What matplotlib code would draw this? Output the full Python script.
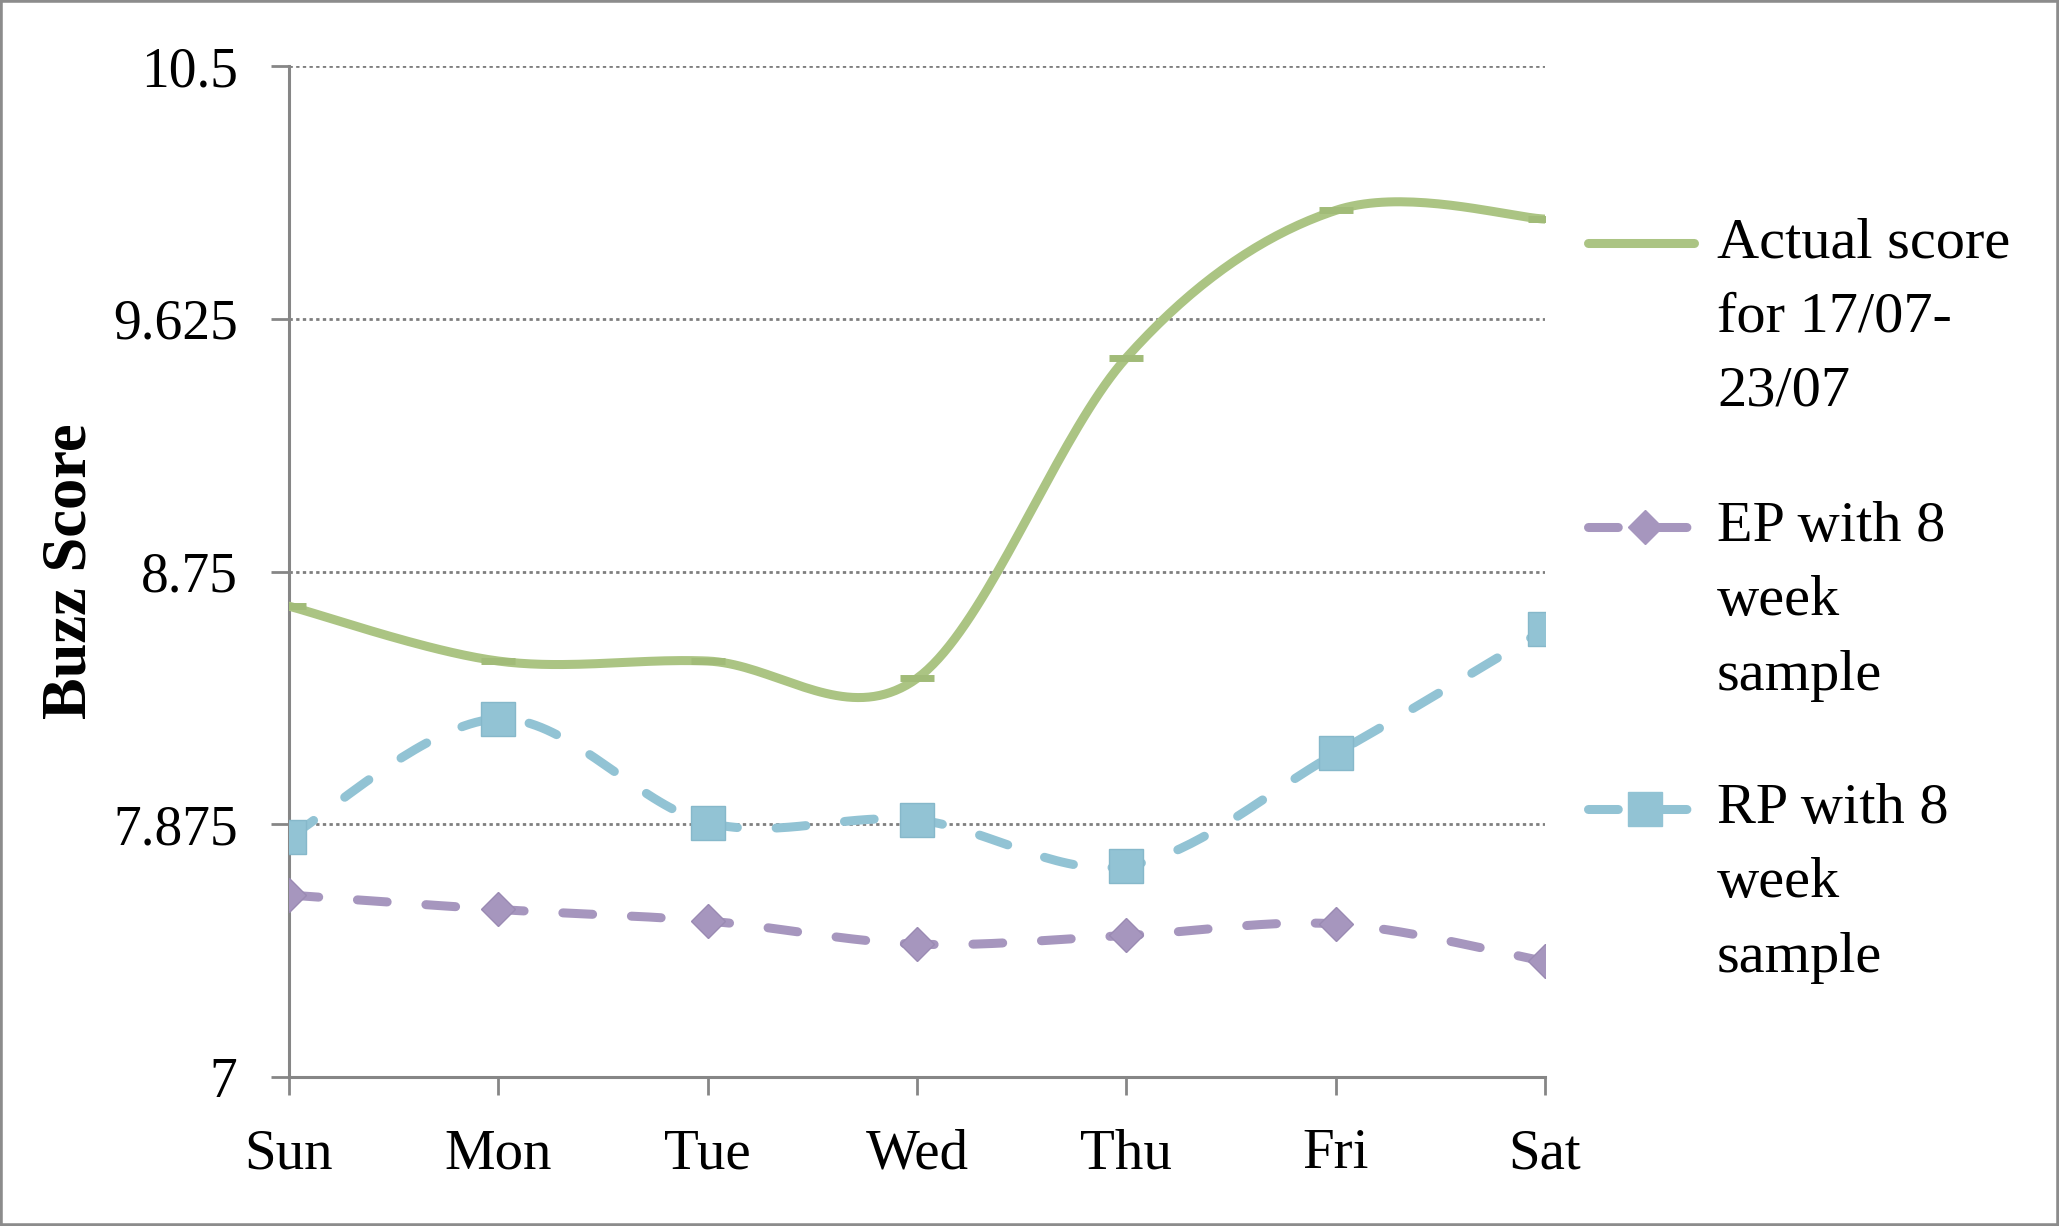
import numpy as np
import matplotlib.pyplot as plt
from matplotlib.lines import Line2D
from matplotlib.patches import Rectangle

# Data
days = ['Sun', 'Mon', 'Tue', 'Wed', 'Thu', 'Fri', 'Sat']
actual = [8.63, 8.44, 8.44, 8.38, 9.49, 10.0, 9.97]
ep_8wk = [7.63, 7.58, 7.54, 7.46, 7.49, 7.53, 7.40]
rp_8wk = [7.83, 8.24, 7.88, 7.89, 7.73, 8.12, 8.55]
y_ticks = [7, 7.875, 8.75, 9.625, 10.5]
y_tick_labels = ['7', '7.875', '8.75', '9.625', '10.5']
legend_lines = [['Actual score', 'for 17/07-', '23/07'],
                ['EP with 8', 'week', 'sample'],
                ['RP with 8', 'week', 'sample']]

green = '#abc483'
purple = '#a696be'
blue = '#92c3d4'
grey = '#868686'

plt.rcParams['font.family'] = ['Liberation Serif', 'DejaVu Serif']


def smooth(xs, ys, n=40):
    # catmull-rom style bezier, like the spreadsheet "smoothed line"
    p = np.column_stack([xs, ys]).astype(float)
    p_ext = np.vstack([p[0], p, p[-1]])
    out = []
    t = np.linspace(0, 1, n)[:, None]
    for i in range(len(p) - 1):
        b0 = p_ext[i + 1]
        b3 = p_ext[i + 2]
        b1 = b0 + (p_ext[i + 2] - p_ext[i]) / 6
        b2 = b3 - (p_ext[i + 3] - p_ext[i + 1]) / 6
        seg = ((1 - t) ** 3 * b0 + 3 * (1 - t) ** 2 * t * b1
               + 3 * (1 - t) * t ** 2 * b2 + t ** 3 * b3)
        out.append(seg if i == 0 else seg[1:])
    out = np.vstack(out)
    return out[:, 0], out[:, 1]


W, H = 2059, 1226
fig = plt.figure(figsize=(W / 100, H / 100), dpi=100)
ax = fig.add_axes([289 / W, 1 - 1077 / H, (1545 - 289) / W, (1077 - 66) / H])

x = np.arange(len(days))
dash = (3.3, 4.3)
lw_solid = 6.5
lw_dash = 6.5

sx, sy = smooth(x, actual)
ax.plot(sx, sy, color=green, lw=lw_solid, solid_capstyle='round', zorder=3)
ax.plot(x, actual, ls='none', marker='_', ms=24, mew=5, color='#a1bb78', zorder=4)

sx, sy = smooth(x, ep_8wk)
ax.plot(sx, sy, color=purple, lw=lw_dash, ls=(0, dash), dash_capstyle='round', zorder=3)
ax.plot(x, ep_8wk, ls='none', marker='D', ms=17, color=purple, mec='#9a8ab3', mew=1, zorder=4)

sx, sy = smooth(x, rp_8wk)
ax.plot(sx, sy, color=blue, lw=lw_dash, ls=(0, dash), dash_capstyle='round', zorder=3)
ax.plot(x, rp_8wk, ls='none', marker='s', ms=24, color=blue, mec='#86b8ca', mew=1, zorder=4)

ax.set_xlim(0, 6)
ax.set_ylim(7, 10.5)
ax.set_xticks(x)
ax.set_xticklabels(days, fontsize=41)
ax.set_yticks(y_ticks)
ax.set_yticklabels(y_tick_labels, fontsize=40)
ax.tick_params(axis='y', direction='out', length=13, width=2, color=grey, pad=24)
ax.tick_params(axis='x', direction='out', length=13, width=2, color=grey, pad=24)

for s in ['top', 'right']:
    ax.spines[s].set_visible(False)
for s in ['left', 'bottom']:
    ax.spines[s].set_color(grey)
    ax.spines[s].set_linewidth(2.2)

for yv in y_ticks[1:]:
    ax.axhline(yv, color='#7f7f7f', lw=2, ls=(0, (1.2, 1.2)), zorder=1)

fig.text(71 / W, 1 - 571 / H, 'Buzz Score', rotation=90, ha='center', va='center',
         fontsize=45, fontweight='bold')

# legend drawn by hand so the sample sits on the first text line
entry_y = [243, 527, 809]
styles = [dict(color=green, lw=lw_solid, solid_capstyle='round'),
          dict(color=purple, lw=lw_dash, ls=(0, dash), dash_capstyle='round'),
          dict(color=blue, lw=lw_dash, ls=(0, dash), dash_capstyle='round')]
marks = [None, dict(marker='D', ms=17, color=purple), dict(marker='s', ms=24, color=blue)]
for k in range(3):
    yy = 1 - entry_y[k] / H
    fig.add_artist(Line2D([1588 / W, 1694 / W], [yy, yy], transform=fig.transFigure, **styles[k]))
    if marks[k]:
        fig.add_artist(Line2D([1645 / W], [yy], transform=fig.transFigure, ls='none', **marks[k]))
    for j, line in enumerate(legend_lines[k]):
        fig.text(1717 / W, yy - j * 74.5 / H, line, ha='left', va='center', fontsize=42)

fig.add_artist(Rectangle((0, 0), 1, 1, transform=fig.transFigure, fill=False,
                         edgecolor='#8c8c8c', lw=4))

fig.savefig('out.png', dpi=100)
